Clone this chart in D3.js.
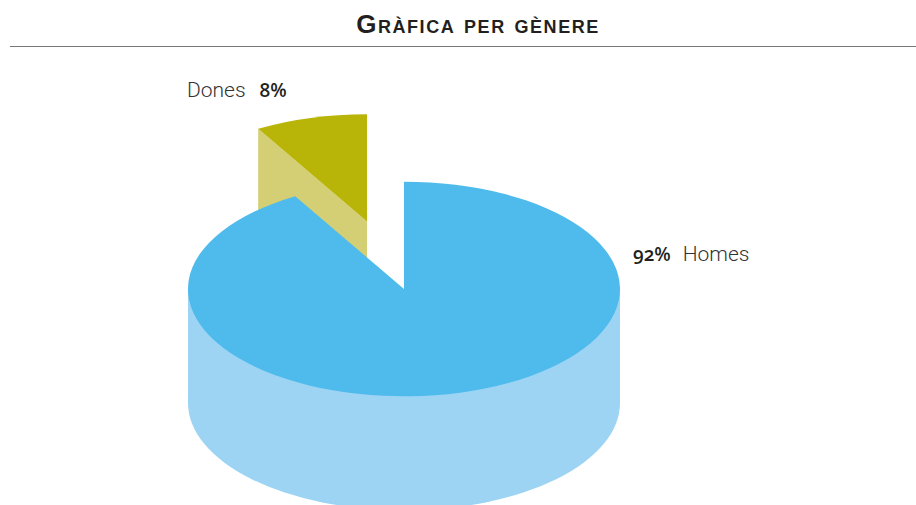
<!DOCTYPE html>
<html>
<head>
<meta charset="utf-8">
<script src="https://cdn.jsdelivr.net/npm/d3@7/dist/d3.min.js"></script>
<style>
html,body{margin:0;padding:0;background:#fff;overflow:hidden}
svg{display:block}
</style>
</head>
<body>
<svg id="c" width="916" height="505"></svg>
<script>
const categories = ["Homes", "Dones"];
const values = [91.6, 8.4];
const valueLabels = ["92%", "8%"];
const titleText = "Gràfica per gènere";

const W = 916, H = 505;
const cx = 404, cy = 289, rx = 216, tilt = 0.497, depth = 114;
const offset = {Dones: [-37, -67.5], Homes: [0, 0]};
const topCol = {Homes: "#4fbbec", Dones: "#b8b408"};
const sideCol = {Homes: "#9dd4f3", Dones: "#d4cf74"};

const svg = d3.select("#c");

svg.append("text").attr("x", 478).attr("y", 33).attr("text-anchor", "middle")
  .attr("font-family", "'Liberation Sans', sans-serif")
  .attr("font-weight", 700).attr("font-size", 26).attr("fill", "#231f20")
  .style("font-variant", "small-caps").style("letter-spacing", "1.55px")
  .text(titleText);
svg.append("line").attr("x1", 10).attr("x2", W).attr("y1", 46.5).attr("y2", 46.5)
  .attr("stroke", "#777").attr("stroke-width", 1.2);

const data = categories.map((c, i) => ({cat: c, value: values[i], label: valueLabels[i]}));
const pie = d3.pie().value(d => d.value).sort(null).startAngle(0).endAngle(2 * Math.PI);
const arcs = pie(data);
const arc = d3.arc().innerRadius(0).outerRadius(rx);
const yScale = d3.scaleLinear().domain([-rx, rx]).range([cy - rx * tilt, cy + rx * tilt]);
const xScale = d3.scaleLinear().domain([-rx, rx]).range([cx - rx, cx + rx]);
const planeTransform = (dx, dy) => `translate(${cx + dx},${cy + dy}) scale(1,${tilt})`;

const dones = arcs[1], homes = arcs[0];
const [odx, ody] = offset.Dones;

// wall of the pulled-out slice (inner radial face)
const a = dones.startAngle;
const cornerX = xScale(rx * Math.sin(a)) + odx, cornerY = yScale(-rx * Math.cos(a)) + ody;
const apexX = cx + odx, apexY = cy + ody;
svg.append("path")
  .attr("d", d3.line()([[cornerX, cornerY], [apexX, apexY], [apexX, apexY + depth], [cornerX, cornerY + depth]]) + "Z")
  .attr("fill", sideCol.Dones);
svg.append("path").attr("d", arc(dones)).attr("transform", planeTransform(odx, ody)).attr("fill", topCol.Dones);

// cylinder body of main slice
svg.append("rect").attr("x", xScale(-rx)).attr("y", cy).attr("width", 2 * rx).attr("height", depth).attr("fill", sideCol.Homes);
svg.append("path").attr("d", arc({startAngle: 0, endAngle: 2 * Math.PI})).attr("transform", planeTransform(0, depth)).attr("fill", sideCol.Homes);
svg.append("path").attr("d", arc(homes)).attr("transform", planeTransform(0, 0)).attr("fill", topCol.Homes);

// labels
const nameStyle = {f: "Roboto, sans-serif", w: 300, s: 21, c: "#333"};
const valStyle = {f: "'Open Sans', sans-serif", w: 600, s: 19, c: "#231f20"};
const lab = [
  {x: 187, y: 97, parts: [[categories[1], nameStyle, 0], [valueLabels[1], valStyle, 14]]},
  {x: 633, y: 261, parts: [[valueLabels[0], valStyle, 0], [categories[0], nameStyle, 12]]}
];
lab.forEach(l => {
  const t = svg.append("text").attr("x", l.x).attr("y", l.y);
  l.parts.forEach(p => t.append("tspan").attr("dx", p[2])
    .attr("font-family", p[1].f).attr("font-weight", p[1].w).attr("font-size", p[1].s).attr("fill", p[1].c)
    .style("font-feature-settings", "'onum'").text(p[0]));
});
</script>
</body>
</html>
